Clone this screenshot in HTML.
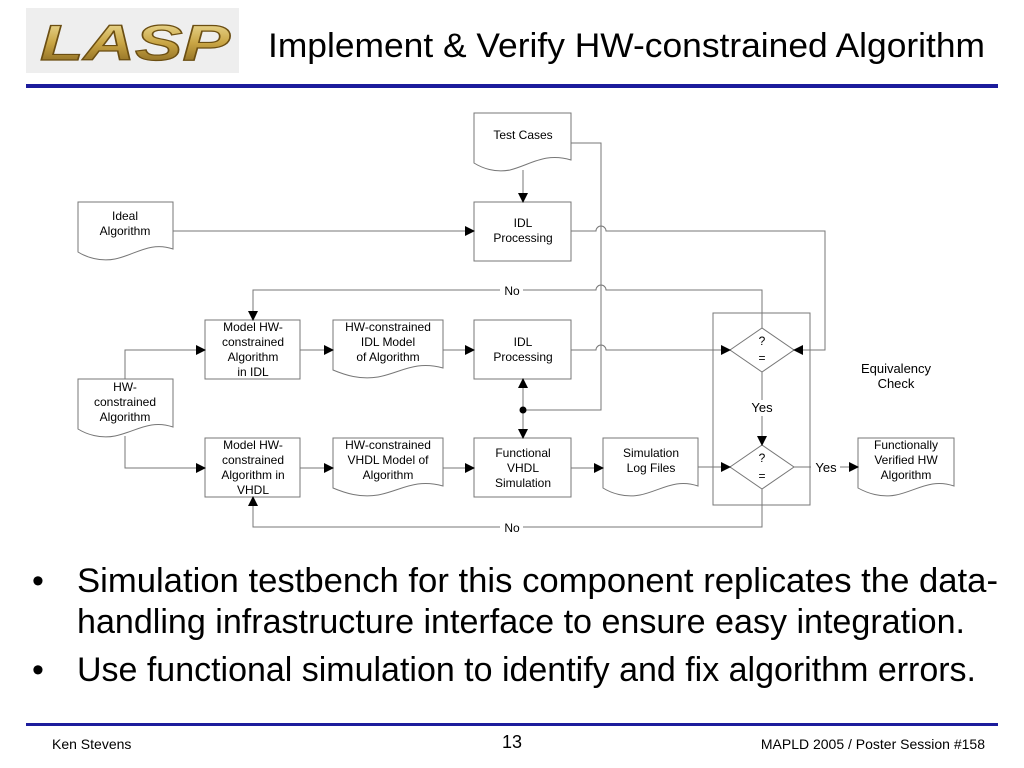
<!DOCTYPE html>
<html><head><meta charset="utf-8"><style>
html,body{margin:0;padding:0;background:#fff;}
svg{display:block;font-family:"Liberation Sans",Arial,sans-serif;}
</style></head><body>
<svg width="1024" height="768" viewBox="0 0 1024 768" xmlns="http://www.w3.org/2000/svg">
<defs>
<linearGradient id="g" x1="0" y1="0" x2="0" y2="1">
<stop offset="0" stop-color="#f4e7a8"/><stop offset="0.5" stop-color="#c9a544"/><stop offset="1" stop-color="#7a5a18"/>
</linearGradient>
<marker id="a" markerWidth="10" markerHeight="10" refX="9" refY="5" orient="auto" markerUnits="userSpaceOnUse">
<path d="M0,0 L10,5 L0,10 z" fill="#000"/></marker>
</defs>
<rect x="26" y="8" width="213" height="65" fill="#eeeeee"/>
<text x="40" y="60" font-size="50" font-weight="bold" font-style="italic" fill="url(#g)" stroke="#6b4e12" stroke-width="1.2" textLength="190" lengthAdjust="spacingAndGlyphs">LASP</text>
<text x="268" y="57" font-size="34" fill="#000" textLength="717" lengthAdjust="spacingAndGlyphs">Implement &amp; Verify HW-constrained Algorithm</text>
<rect x="26" y="84" width="972" height="4" fill="#1c1c9c"/>

<g stroke="#777" stroke-width="1" fill="#fff">
<path d="M474,113 H571 V160 C545,152 530,165 510,170 C495,173 482,168 474,163 Z"/>
<path d="M78,202 H173 V249 C150,241 135,255 115,259 C100,262 86,257 78,252 Z"/>
<path d="M333,320 H443 V368 C415,360 400,373 378,377 C360,380 345,375 333,370 Z"/>
<path d="M78,379 H173 V427 C150,419 135,432 115,436 C100,439 86,434 78,429 Z"/>
<path d="M333,438 H443 V486 C415,478 400,491 378,495 C360,498 345,493 333,488 Z"/>
<path d="M603,438 H698 V486 C675,478 660,491 640,495 C625,498 611,493 603,488 Z"/>
<path d="M858,438 H954 V486 C931,478 916,491 896,495 C881,498 867,493 858,488 Z"/>
<rect x="474" y="202" width="97" height="59"/>
<rect x="205" y="320" width="95" height="59"/>
<rect x="474" y="320" width="97" height="59"/>
<rect x="205" y="438" width="95" height="59"/>
<rect x="474" y="438" width="97" height="59"/>
<rect x="713" y="313" width="97" height="192" fill="none"/>
<path d="M730,350 L762,328 L794,350 L762,372 Z"/>
<path d="M730,467 L762,445 L794,467 L762,489 Z"/>
</g>

<g stroke="#777" stroke-width="1" fill="none">
<path d="M523,170 V202" marker-end="url(#a)"/>
<path d="M173,231 H474" marker-end="url(#a)"/>
<path d="M571,231 H596 A5,5 0 0 1 606,231 H825 V350 H794" marker-end="url(#a)"/>
<path d="M571,143 H601 V410 H523"/>
<path d="M523,410 V379" marker-end="url(#a)"/>
<path d="M523,410 V438" marker-end="url(#a)"/>
<path d="M762,328 V290 H606 A5,5 0 0 0 596,290 H523"/>
<path d="M500,290 H253 V320" marker-end="url(#a)"/>
<path d="M125,379 V350 H205" marker-end="url(#a)"/>
<path d="M125,436 V468 H205" marker-end="url(#a)"/>
<path d="M300,350 H333" marker-end="url(#a)"/>
<path d="M443,350 H474" marker-end="url(#a)"/>
<path d="M571,350 H596 A5,5 0 0 1 606,350 H730" marker-end="url(#a)"/>
<path d="M300,468 H333" marker-end="url(#a)"/>
<path d="M443,468 H474" marker-end="url(#a)"/>
<path d="M571,468 H603" marker-end="url(#a)"/>
<path d="M698,467 H730" marker-end="url(#a)"/>
<path d="M762,372 V400"/>
<path d="M762,416 V445" marker-end="url(#a)"/>
<path d="M794,467 H811"/>
<path d="M840,467 H858" marker-end="url(#a)"/>
<path d="M762,489 V527 H523"/>
<path d="M500,527 H253 V497" marker-end="url(#a)"/>
</g>
<circle cx="523" cy="410" r="3.5" fill="#000"/>

<g font-size="12" fill="#000" text-anchor="middle">
<text x="523" y="139">Test Cases</text>
<text x="523" y="227">IDL</text><text x="523" y="242">Processing</text>
<text x="125" y="220">Ideal</text><text x="125" y="235">Algorithm</text>
<text x="512" y="295">No</text>
<text x="253" y="331">Model HW-</text><text x="253" y="346">constrained</text><text x="253" y="361">Algorithm</text><text x="253" y="376">in IDL</text>
<text x="388" y="331">HW-constrained</text><text x="388" y="346">IDL Model</text><text x="388" y="361">of Algorithm</text>
<text x="523" y="346">IDL</text><text x="523" y="361">Processing</text>
<text x="125" y="391">HW-</text><text x="125" y="406">constrained</text><text x="125" y="421">Algorithm</text>
<text x="253" y="449">Model HW-</text><text x="253" y="464">constrained</text><text x="253" y="479">Algorithm in</text><text x="253" y="494">VHDL</text>
<text x="388" y="449">HW-constrained</text><text x="388" y="464">VHDL Model of</text><text x="388" y="479">Algorithm</text>
<text x="523" y="457">Functional</text><text x="523" y="472">VHDL</text><text x="523" y="487">Simulation</text>
<text x="651" y="457">Simulation</text><text x="651" y="472">Log Files</text>
<text x="762" y="345">?</text><text x="762" y="362">=</text>
<text x="762" y="462">?</text><text x="762" y="480">=</text>
<text x="762" y="412" font-size="13">Yes</text>
<text x="826" y="472" font-size="13">Yes</text>
<text x="906" y="449">Functionally</text><text x="906" y="464">Verified HW</text><text x="906" y="479">Algorithm</text>
<text x="896" y="373" font-size="13">Equivalency</text><text x="896" y="388" font-size="13">Check</text>
<text x="512" y="532">No</text>
</g>

<g font-size="34" fill="#000">
<text x="32" y="592">•</text>
<text x="77" y="592" textLength="921" lengthAdjust="spacingAndGlyphs">Simulation testbench for this component replicates the data-</text>
<text x="77" y="633" textLength="888" lengthAdjust="spacingAndGlyphs">handling infrastructure interface to ensure easy integration.</text>
<text x="32" y="681">•</text>
<text x="77" y="681" textLength="899" lengthAdjust="spacingAndGlyphs">Use functional simulation to identify and fix algorithm errors.</text>
</g>

<rect x="26" y="723" width="972" height="3" fill="#1c1c9c"/>
<text x="52" y="749" font-size="14" fill="#000">Ken Stevens</text>
<text x="512" y="748" font-size="18" text-anchor="middle" fill="#000">13</text>
<text x="985" y="749" font-size="14" text-anchor="end" fill="#000">MAPLD 2005 / Poster Session #158</text>
</svg>
</body></html>
